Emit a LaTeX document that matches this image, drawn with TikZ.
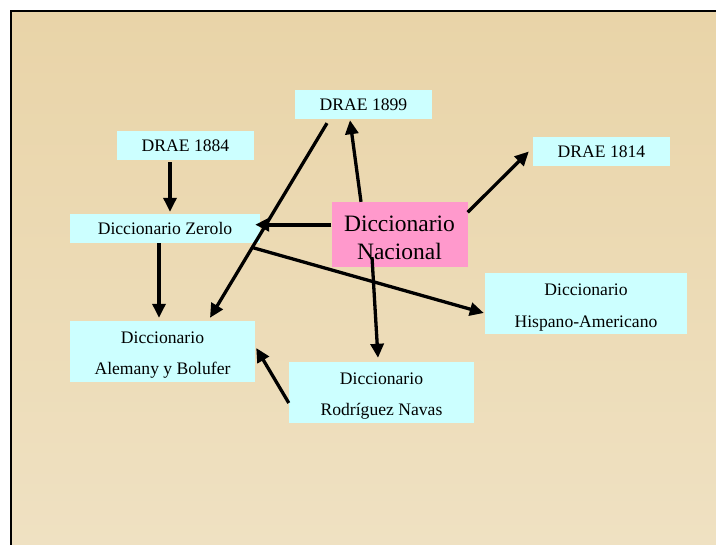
\documentclass[tikz,border=0pt]{standalone}
\usepackage{fontspec}
\setmainfont{Liberation Serif}
\usetikzlibrary{arrows.meta}
\definecolor{parchtop}{HTML}{E9D4A8}
\definecolor{parchbot}{HTML}{EFE1C2}
\definecolor{boxcyan}{HTML}{CCFFFF}
\definecolor{boxpink}{HTML}{FF99CC}
\tikzset{
  smallbox/.style={fill=boxcyan, inner sep=0pt, align=center,
    font=\fontsize{17.6}{31.6}\selectfont},
  bigbox/.style={fill=boxpink, inner sep=0pt, align=center,
    font=\fontsize{23.5}{28.3}\selectfont},
  arr/.style={line width=3.3pt, -{Triangle[length=14pt,width=13pt]}},
  thickarr/.style={arr, line width=4pt}
}
\begin{document}
\begin{tikzpicture}[x=1pt,y=-1pt]
\useasboundingbox (0,0) rectangle (716,545);
\fill[white] (0,0) rectangle (716,545);
\shade[top color=parchtop, bottom color=parchbot] (10,11) rectangle (716,545);
\draw[line width=2pt] (10.5,545) -- (10.5,11.5) -- (716,11.5);

\node[smallbox, minimum width=137pt, minimum height=29pt] (d1899) at (363.5,104.5) {DRAE 1899};
\node[smallbox, minimum width=137pt, minimum height=29pt] (d1884) at (185.5,145.5) {DRAE 1884};
\node[smallbox, minimum width=190pt, minimum height=29pt] (zerolo) at (165,228.5) {Diccionario Zerolo};
\node[bigbox, minimum width=136pt, minimum height=64.5pt] (nacional) at (399.5,234.3) {\rule{0pt}{22pt}Diccionario\\Nacional};
\node[smallbox, minimum width=137pt, minimum height=29pt] (d1814) at (601.5,151.5) {DRAE 1814};
\node[smallbox, minimum width=202pt, minimum height=61pt] (hispano) at (586,303.5) {\rule{0pt}{19.5pt}Diccionario\\Hispano-Americano};
\node[smallbox, minimum width=185pt, minimum height=61pt] (alemany) at (162.5,351.5) {\rule{0pt}{19pt}Diccionario\\Alemany y Bolufer};
\node[smallbox, minimum width=185pt, minimum height=61pt] (rodriguez) at (381.5,392.5) {\rule{0pt}{19pt}Diccionario\\Rodríguez Navas};

\draw[arr] ([xshift=-15.5pt,yshift=-2pt]d1884.south) -- ([xshift=5pt,yshift=2pt]zerolo.north);
\draw[thickarr] ([yshift=9.6pt]nacional.west) -- ([xshift=-5pt,yshift=3.8pt]zerolo.east);
\draw[arr] ([xshift=-38.5pt]nacional.north) -- ([xshift=-13.5pt,yshift=-1pt]d1899.south);
\draw[arr] ([xshift=-36.5pt,yshift=-4pt]d1899.south) -- ([xshift=47.5pt,yshift=3pt]alemany.north);
\draw[arr] ([yshift=22pt]nacional.east) -- ([xshift=-4pt]d1814.west);
\draw[arr] ([xshift=-9pt,yshift=-4pt]zerolo.south east) -- ([xshift=-1pt,yshift=-9.5pt]hispano.west);
\draw[arr] ([xshift=-27.5pt,yshift=9.6pt]nacional.south) -- ([xshift=-3.5pt,yshift=4pt]rodriguez.north);
\draw[arr] ([yshift=-10.5pt]rodriguez.west) -- ([xshift=1pt,yshift=3.5pt]alemany.east);
\draw[arr] ([xshift=-6pt]zerolo.south) -- ([xshift=-3.5pt,yshift=3pt]alemany.north);
\end{tikzpicture}
\end{document}
